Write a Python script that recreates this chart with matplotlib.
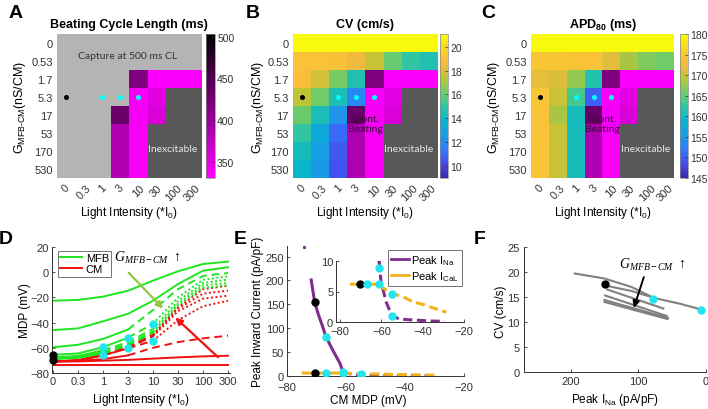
import numpy as np
import matplotlib
matplotlib.use("Agg")
import matplotlib.pyplot as plt
from matplotlib.colors import LinearSegmentedColormap, ListedColormap
from matplotlib.lines import Line2D

plt.rcParams['font.family'] = ['Liberation Sans', 'DejaVu Sans']
plt.rcParams['mathtext.fontset'] = 'custom'
plt.rcParams['mathtext.rm'] = 'Liberation Sans'
plt.rcParams['mathtext.it'] = 'Liberation Serif:italic'
plt.rcParams['mathtext.bf'] = 'Liberation Sans:bold'
plt.rcParams['mathtext.sf'] = 'Liberation Sans'
plt.rcParams['axes.linewidth'] = 0.7
plt.rcParams['axes.edgecolor'] = '#333333'
plt.rcParams['xtick.color'] = '#333333'
plt.rcParams['ytick.color'] = '#333333'
plt.rcParams['xtick.labelsize'] = 8
plt.rcParams['ytick.labelsize'] = 8

W, H = 708, 410
fig = plt.figure(figsize=(W / 100, H / 100), dpi=100)


def px(x0, y0, x1, y1):
    return [x0 / W, 1 - y1 / H, (x1 - x0) / W, (y1 - y0) / H]


# ---------------- data ----------------
light_labels = ['0', '0.3', '1', '3', '10', '30', '100', '300']
g_labels = ['0', '0.53', '1.7', '5.3', '17', '53', '170', '530']
N = np.nan

# 0 = captured at 500 ms CL, 1 = spontaneous beating, 2 = inexcitable
state = np.array([
    [0, 0, 0, 0, 0, 0, 0, 0],
    [0, 0, 0, 0, 0, 0, 0, 0],
    [0, 0, 0, 0, 1, 1, 1, 1],
    [0, 0, 0, 0, 1, 1, 2, 2],
    [0, 0, 0, 1, 1, 1, 2, 2],
    [0, 0, 0, 1, 1, 2, 2, 2],
    [0, 0, 0, 1, 1, 2, 2, 2],
    [0, 0, 0, 1, 1, 2, 2, 2],
])

cycle_len = np.array([
    [N, N, N, N, N, N, N, N],
    [N, N, N, N, N, N, N, N],
    [N, N, N, N, 418, 334, 334, 334],
    [N, N, N, N, 336, 350, N, N],
    [N, N, N, 432, 338, 356, N, N],
    [N, N, N, 386, 336, N, N, N],
    [N, N, N, 386, 336, N, N, N],
    [N, N, N, 386, 336, N, N, N],
])

cv = np.array([
    [21.0, 21.0, 21.0, 21.0, 21.0, 21.0, 21.0, 21.0],
    [19.0, 19.0, 18.9, 18.5, 17.6, 16.0, 15.0, 14.6],
    [18.8, 17.8, 16.3, 14.6, N, N, N, N],
    [17.4, 16.2, 14.5, 11.9, N, N, N, N],
    [16.1, 14.4, 12.3, N, N, N, N, N],
    [15.0, 13.2, 11.0, N, N, N, N, N],
    [14.3, 12.8, 10.6, N, N, N, N, N],
    [13.9, 12.6, 10.4, N, N, N, N, N],
])

apd = np.array([
    [180, 180, 180, 180, 180, 180, 180, 180],
    [174.5, 174.5, 174.3, 174.0, 171.5, 168.5, 166.5, 165.8],
    [171.8, 171.2, 167.5, 161.5, N, N, N, N],
    [174.5, 170.0, 163.5, 150.0, N, N, N, N],
    [174.0, 168.5, 160.5, N, N, N, N, N],
    [174.0, 170.0, 160.5, N, N, N, N, N],
    [174.5, 170.0, 160.5, N, N, N, N, N],
    [174.5, 170.0, 160.5, N, N, N, N, N],
])

# Panel D: MDP (mV) vs light intensity, MFB and CM for increasing coupling
mfb_1 = [-22.6, -22.0, -19.4, -14.7, -6.7, 0.7, 6.5, 8.4]
mfb_2 = [-46.0, -44.6, -39.0, -33.0, -22.6, -9.4, 1.2, 3.9]
mfb_3 = [-59.6, -57.6, -53.0, -45.5, -30.0, -13.5, -3.0, -0.6]
mfb_4 = [-65.5, -64.5, -59.5, -52.0, -41.0, -20.0, -6.0, -3.2]
mfb_5 = [-67.5, -66.5, -62.0, -55.5, -45.0, -23.0, -8.5, -5.9]
mfb_6 = [-68.5, -67.5, -63.5, -57.0, -47.0, -25.0, -10.5, -8.5]
mfb_7 = [-69.0, -68.0, -64.5, -58.0, -48.0, -26.5, -12.5, -10.5]
cm_1 = [-74.0, -74.0, -74.0, -74.0, -74.0, -74.0, -74.0, -74.0]
cm_2 = [-71.0, -70.8, -70.2, -69.6, -68.6, -67.6, -66.8, -66.3]
cm_3 = [-70.8, -70.4, -69.0, -66.0, -60.0, -55.5, -52.5, -50.4]
cm_4 = [-70.8, -70.0, -66.0, -60.5, -54.4, -38.0, -27.0, -22.6]
cm_5 = [-70.8, -70.0, -66.0, -60.0, -51.0, -31.0, -21.0, -18.6]
cm_6 = [-70.8, -70.0, -65.5, -59.5, -50.0, -29.0, -17.0, -14.6]
cm_7 = [-70.8, -70.0, -65.5, -59.0, -49.5, -28.0, -13.5, -10.7]
d_black_mdp = [-66.0, -69.8]
d_cyan_idx = [2, 2, 3, 3, 4, 4]
d_cyan_mdp = [-59.5, -66.0, -52.0, -60.5, -41.0, -54.4]

# Panel E: peak inward currents vs CM MDP
ina_mdp = [-71.8, -70.6, -69.5, -68.0, -66.8, -64.3, -62.0, -61.1, -60.2, -57.7,
           -55.0, -51.3, -46.0, -41.6, -35.0, -29.4]
ina_peak = [201, 154, 131, 105, 82, 52, 26, 10, 6.6, 3.3,
            1.0, 0.5, 0.35, 0.27, 0.15, 0.1]
ical_mdp = [-74.5, -70.6, -66.8, -63.0, -61.1, -58.0, -55.0, -52.9, -48.0, -44.8,
            -40.0, -36.7, -32.0, -28.6]
ical_peak = [6.2, 6.2, 6.2, 6.2, 6.0, 5.3, 4.6, 4.5, 3.9, 3.3,
             2.9, 2.5, 2.0, 1.6]
e_dot_mdp = [-70.6, -66.8, -61.1, -55.0]
e_dot_ina = [154, 82, 8.9, 1.0]
e_dot_ical = [6.2, 6.2, 6.2, 4.6]

# Panel F: CV vs peak INa, one curve per coupling
f_ina_1 = [194, 150, 110, 80, 70, 40, 7]
f_cv_1 = [19.7, 18.7, 17.0, 15.0, 14.6, 13.7, 12.5]
f_ina_2 = [149, 110, 76]
f_cv_2 = [17.3, 16.2, 14.8]
f_ina_3 = [146, 63]
f_cv_3 = [16.5, 12.7]
f_ina_4 = [149, 58]
f_cv_4 = [15.3, 11.2]
f_ina_5 = [150, 56]
f_cv_5 = [14.4, 10.8]
f_ina_6 = [150, 57]
f_cv_6 = [14.0, 10.6]
f_black = (149, 17.7)
f_cyan_ina = [78, 7]
f_cyan_cv = [14.7, 12.5]

# ---------------- colormaps ----------------
parula_pts = [(0.2422, 0.1504, 0.6603), (0.2760, 0.3000, 0.9300), (0.2000, 0.4800, 0.9900),
              (0.1000, 0.6100, 0.9000), (0.0200, 0.7100, 0.8100), (0.1960, 0.7800, 0.6300),
              (0.4500, 0.8000, 0.4000), (0.7500, 0.7700, 0.2100), (0.9800, 0.7300, 0.2500),
              (0.9700, 0.8300, 0.1600), (0.9763, 0.9831, 0.0538)]
parula = LinearSegmentedColormap.from_list('parula', parula_pts)
mag_cmap = LinearSegmentedColormap.from_list('mag', [(1, 0, 1), (0, 0, 0)])
gray_cmap = ListedColormap(['#b4b4b4'])
inex_cmap = ListedColormap(['#585858'])
CL_MIN, CL_MAX = 331, 503

calibri = ['Lato', 'DejaVu Sans']


def heat(rect, cb_rect, captured, vmin, vmax, title, cb_ticks, ylab_x, spont_text=None):
    ax = fig.add_axes(px(*rect))
    ones = np.ones(state.shape)
    ax.imshow(np.ma.masked_where(state != 2, ones), cmap=inex_cmap, aspect='auto',
              interpolation='nearest', vmin=0, vmax=2)
    if captured is None:
        ax.imshow(np.ma.masked_where(state != 0, ones), cmap=gray_cmap, aspect='auto',
                  interpolation='nearest', vmin=0, vmax=2)
        main = None
    else:
        main = ax.imshow(np.ma.masked_where(state != 0, captured), cmap=parula, aspect='auto',
                         interpolation='nearest', vmin=vmin, vmax=vmax)
    sp = ax.imshow(np.ma.masked_invalid(cycle_len), cmap=mag_cmap, aspect='auto',
                   interpolation='nearest', vmin=CL_MIN, vmax=CL_MAX)
    if main is None:
        main = sp
    ax.plot([0], [3], 'o', color='black', ms=2.6, zorder=5)
    ax.plot([2, 3, 4], [3, 3, 3], 'o', color='#00ffff', ms=2.6, zorder=5)
    ax.set_xticks(range(8))
    ax.set_xticklabels(light_labels, rotation=45, ha='center', va='top')
    ax.set_yticks(range(8))
    ax.set_yticklabels(g_labels)
    ax.tick_params(length=0, pad=3)
    for s in ax.spines.values():
        s.set_visible(False)
    ax.set_title(title, fontsize=9, fontweight='bold', pad=5)
    cx = (rect[0] + rect[2]) / 2
    fig.text(cx / W, 1 - 213 / H, r'Light Intensity (*$\mathrm{I_0}$)', ha='center', va='center', fontsize=8.5)
    fig.text(ylab_x / W, 1 - 108 / H, r'$\mathrm{G_{MFB‐CM}}$(nS/CM)', rotation=90,
             ha='center', va='center', fontsize=9)
    ax.text(5.92, 5.85, 'Inexcitable', ha='center', va='center', color='#e6e6e6', fontsize=7.5,
            family=calibri)
    if spont_text:
        ax.text(3.5, 4.45, 'Spont.\nBeating', ha='center', va='center', color='#3a0a3a',
                fontsize=7.5, family=calibri, linespacing=1.15)
    cax = fig.add_axes(px(*cb_rect))
    cb = fig.colorbar(main, cax=cax)
    cb.set_ticks(cb_ticks)
    cb.ax.tick_params(labelsize=7.5, length=2, direction='in', width=0.5, pad=1.5)
    cb.outline.set_linewidth(0.5)
    cb.outline.set_edgecolor('#888888')
    return ax


axA = heat((57, 35, 201, 179), (206, 35, 215, 179), None, CL_MIN, CL_MAX,
           'Beating Cycle Length (ms)', [350, 400, 450, 500], 20)
axA.text(3.45, 0.72, 'Capture at 500 ms CL', ha='center', va='center', color='#333333',
         fontsize=7.5, family=calibri)
axB = heat((293, 35, 437, 179), (440, 35, 448, 179), cv, 9, 21.06,
           'CV (cm/s)', [10, 12, 14, 16, 18, 20], 258, spont_text=True)
axC = heat((531, 35, 674, 179), (680, 35, 688, 179), apd, 145, 180,
           r'$\mathbf{APD_{80}}$ (ms)', [145, 150, 155, 160, 165, 170, 175, 180], 494, spont_text=True)

# ---------------- Panel D ----------------
axD = fig.add_axes(px(52, 248, 230, 374))
GREEN = '#1ee61e'
RED = '#f01010'
xi = np.arange(8)


def seg_plot(ax, y, color, s_end, d_end):
    y = np.asarray(y)
    ax.plot(xi[:s_end + 1], y[:s_end + 1], '-', color=color, lw=1.4)
    if d_end > s_end:
        ax.plot(xi[s_end:d_end + 1], y[s_end:d_end + 1], '--', color=color, lw=1.4, dashes=(4, 2.5))
    if d_end < 7:
        ax.plot(xi[d_end:], y[d_end:], ':', color=color, lw=1.4, dashes=(1, 1.3))


styles = [(7, 7), (7, 7), (3, 7), (3, 4), (2, 4), (2, 4), (2, 4)]
for yv, st in zip([cm_1, cm_2, cm_3, cm_4, cm_5, cm_6, cm_7], styles):
    seg_plot(axD, yv, RED, *st)
for yv, st in zip([mfb_1, mfb_2, mfb_3, mfb_4, mfb_5, mfb_6, mfb_7], styles):
    seg_plot(axD, yv, GREEN, *st)
axD.plot([0, 0], d_black_mdp, 'o', color='black', ms=5, zorder=6, clip_on=False)
axD.plot(d_cyan_idx, d_cyan_mdp, 'o', color='#22e5ee', ms=5, zorder=6)
axD.set_xlim(-0.04, 7.08)
axD.set_ylim(-80, 20)
axD.set_xticks(xi)
axD.set_xticklabels(light_labels)
axD.set_yticks([-80, -60, -40, -20, 0, 20])
axD.tick_params(direction='in', length=2.5, width=0.6, pad=2)
axD.spines['top'].set_visible(False)
axD.spines['right'].set_visible(False)
axD.annotate('', xy=(4.48, -30.5), xytext=(2.95, 1.2),
             arrowprops=dict(arrowstyle='-|>', color='#92c83e', lw=1.6, mutation_scale=10))
axD.annotate('', xy=(4.81, -34.5), xytext=(6.68, -68.9),
             arrowprops=dict(arrowstyle='-|>', color=RED, lw=1.6, mutation_scale=10))
axD.text(3.75, 12.5, r'$G_{MFB-CM}$ $\uparrow$', ha='center', va='center', fontsize=10)
legD = axD.legend(handles=[Line2D([], [], color=GREEN, lw=1.4, label='MFB'),
                           Line2D([], [], color=RED, lw=1.4, label='CM')],
                  loc='upper left', bbox_to_anchor=(58 / W, 1 - 252 / H), bbox_transform=fig.transFigure,
                  fontsize=8, frameon=True, fancybox=False, handlelength=2.0, handletextpad=0.3,
                  borderpad=0.2, labelspacing=0.1, borderaxespad=0)
legD.get_frame().set_edgecolor('#333333')
legD.get_frame().set_linewidth(0.6)
fig.text(25 / W, 1 - 311 / H, 'MDP (mV)', rotation=90, ha='center', va='center', fontsize=8.5)
fig.text(141 / W, 1 - 400 / H, r'Light Intensity (*$\mathrm{I_0}$)', ha='center', va='center', fontsize=8.5)

# ---------------- Panel E ----------------
PURPLE = '#7e2f8e'
ORANGE = '#f2b21e'
axE = fig.add_axes(px(287, 247, 464, 377))
k = 8
axE.plot(ina_mdp[:k], ina_peak[:k], '-', color=PURPLE, lw=2.2)
axE.plot(ina_mdp[k - 1:], ina_peak[k - 1:], '--', color=PURPLE, lw=2.2, dashes=(3, 1.5))
axE.plot([-74.3], [269], 's', color=PURPLE, ms=1.2)
axE.plot(ical_mdp[:5], ical_peak[:5], '-', color=ORANGE, lw=2.2)
axE.plot(ical_mdp[4:], ical_peak[4:], '--', color=ORANGE, lw=2.2, dashes=(3, 1.5))
axE.plot(e_dot_mdp[:1] * 2, [e_dot_ina[0], e_dot_ical[0]], 'o', color='black', ms=5, zorder=6)
axE.plot(e_dot_mdp[1:] * 2, e_dot_ina[1:] + e_dot_ical[1:], 'o', color='#22e5ee', ms=5, zorder=6)
axE.set_xlim(-80, -20)
axE.set_ylim(0, 272)
axE.set_xticks([-80, -60, -40, -20])
axE.set_yticks([0, 50, 100, 150, 200, 250])
axE.tick_params(direction='in', length=2.5, width=0.6, pad=2)
axE.tick_params(axis='x', pad=4)
axE.spines['top'].set_visible(False)
axE.spines['right'].set_visible(False)
fig.text(258 / W, 1 - 312 / H, 'Peak Inward Current (pA/pF)', rotation=90, ha='center', va='center', fontsize=8.5)
fig.text(368 / W, 1 - 401 / H, 'CM MDP (mV)', ha='center', va='center', fontsize=8.5)

axI = fig.add_axes(px(336, 262, 464, 323))
axI.plot(ina_mdp[:k], ina_peak[:k], '-', color=PURPLE, lw=2.2)
axI.plot(ina_mdp[k - 1:], ina_peak[k - 1:], '--', color=PURPLE, lw=2.2, dashes=(3, 1.5))
axI.plot(ical_mdp[:5], ical_peak[:5], '-', color=ORANGE, lw=2.2)
axI.plot(ical_mdp[4:], ical_peak[4:], '--', color=ORANGE, lw=2.2, dashes=(3, 1.5))
axI.plot(e_dot_mdp[:1] * 2, [e_dot_ina[0], e_dot_ical[0]], 'o', color='black', ms=5, zorder=6)
axI.plot(e_dot_mdp[1:] * 2, e_dot_ina[1:] + e_dot_ical[1:], 'o', color='#22e5ee', ms=5, zorder=6)
axI.set_xlim(-82, -20)
axI.set_ylim(0, 10)
axI.set_xticks([-80, -60, -40, -20])
axI.set_yticks([0, 5, 10])
axI.tick_params(direction='in', length=2, width=0.6, pad=2)
axI.tick_params(axis='x', pad=3)
axI.spines['top'].set_visible(False)
axI.spines['right'].set_visible(False)
legE = axI.legend(handles=[Line2D([], [], color=PURPLE, lw=2, label=r'Peak $\mathrm{I_{Na}}$'),
                           Line2D([], [], color=ORANGE, lw=2, label=r'Peak $\mathrm{I_{CaL}}$')],
                  loc='upper right', bbox_to_anchor=(462 / W, 1 - 251 / H), bbox_transform=fig.transFigure,
                  fontsize=8, frameon=True, fancybox=False, handlelength=1.6, handletextpad=0.2,
                  borderpad=0.3, labelspacing=0.2, borderaxespad=0)
legE.get_frame().set_edgecolor('#333333')
legE.get_frame().set_linewidth(0.6)

# ---------------- Panel F ----------------
axF = fig.add_axes(px(524, 248, 706, 373))
GREY = '#808080'
for xa, ya in [(f_ina_1, f_cv_1), (f_ina_2, f_cv_2), (f_ina_3, f_cv_3),
               (f_ina_4, f_cv_4), (f_ina_5, f_cv_5), (f_ina_6, f_cv_6)]:
    axF.plot(xa, ya, '-', color=GREY, lw=1.5)
axF.plot([f_black[0]], [f_black[1]], 'o', color='black', ms=5, zorder=6)
axF.plot(f_cyan_ina, f_cyan_cv, 'o', color='#22e5ee', ms=5, zorder=6)
axF.set_xlim(269, 0)
axF.set_ylim(0, 25)
axF.set_xticks([200, 100, 0])
axF.set_yticks([0, 5, 10, 15, 20, 25])
axF.tick_params(direction='in', length=2.5, width=0.6, pad=3)
axF.spines['top'].set_visible(False)
axF.spines['right'].set_visible(False)
axF.annotate('', xy=(108, 12.3), xytext=(90.6, 19.5),
             arrowprops=dict(arrowstyle='-|>', color='black', lw=1.4, mutation_scale=10))
axF.text(80, 21.7, r'$G_{MFB-CM}$ $\uparrow$', ha='center', va='center', fontsize=10)
fig.text(501 / W, 1 - 312 / H, 'CV (cm/s)', rotation=90, ha='center', va='center', fontsize=8.5)
fig.text(615 / W, 1 - 400 / H, r'Peak $\mathrm{I_{Na}}$ (pA/pF)', ha='center', va='center', fontsize=8.5)

# ---------------- panel letters ----------------
for lab, (x, y) in {'A': (16, 14), 'B': (253, 14), 'C': (488, 14),
                    'D': (6, 240), 'E': (240, 240), 'F': (480, 240)}.items():
    fig.text(x / W, 1 - y / H, lab, fontsize=14, fontweight='bold', ha='center', va='center')

fig.savefig('out.png', dpi=100)
